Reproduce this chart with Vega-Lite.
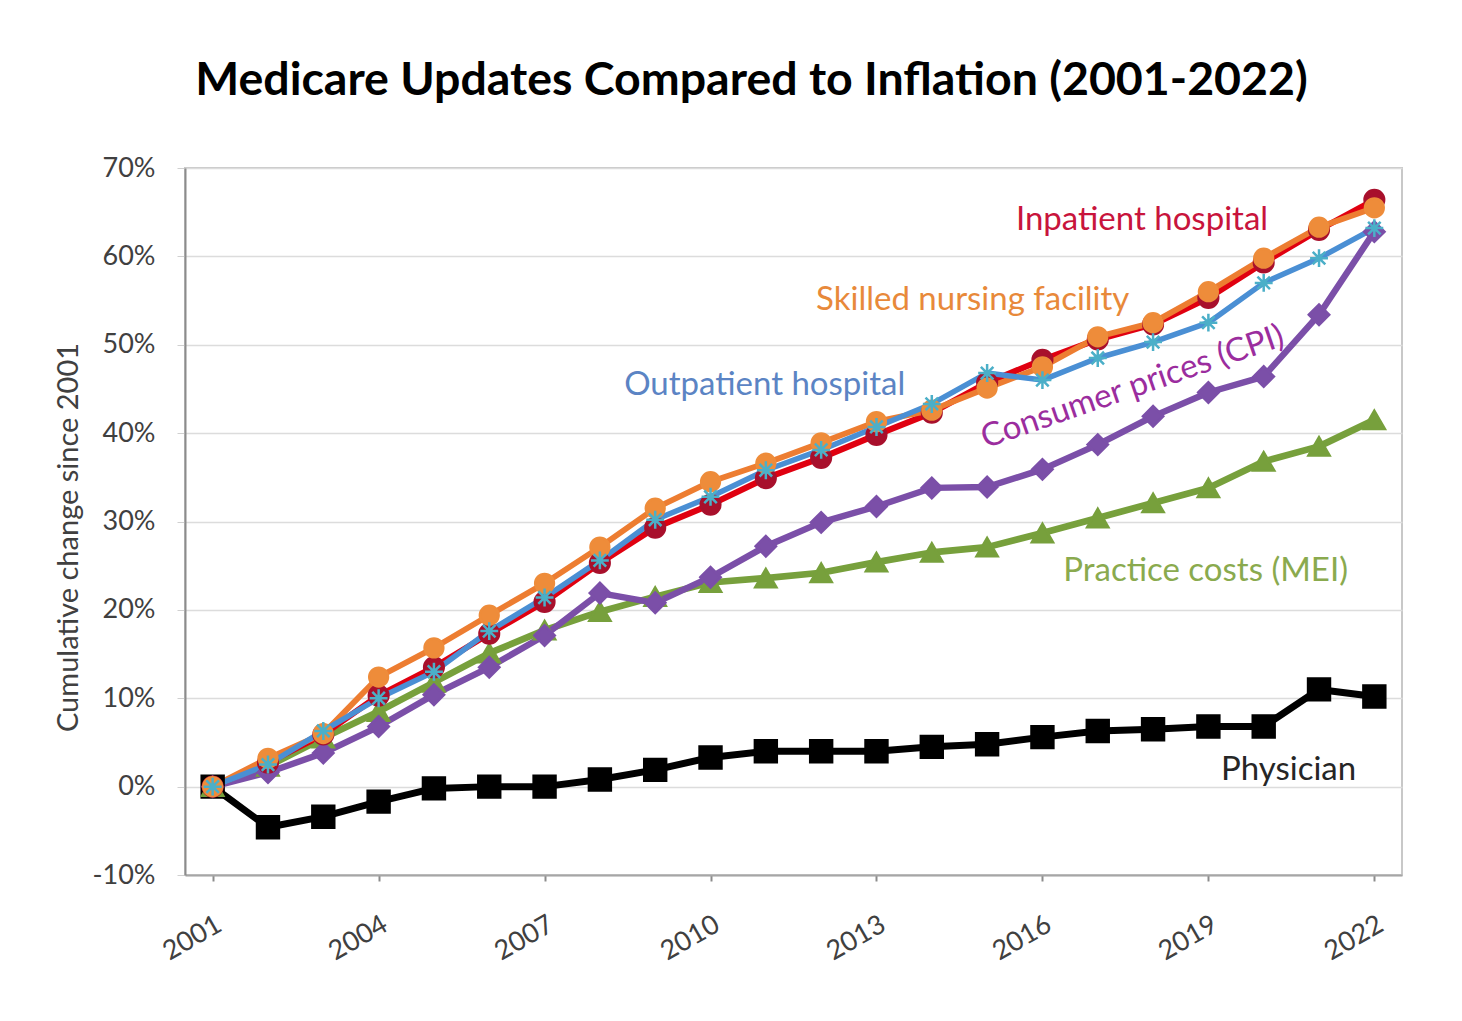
{
  "$schema": "https://vega.github.io/schema/vega-lite/v6.json",
  "width": 1217,
  "height": 707,
  "autosize": {"type": "none"},
  "padding": {"left": 185, "top": 168, "right": 60, "bottom": 146},
  "background": "white",
  "title": {
    "text": "Medicare Updates Compared to Inflation (2001-2022)",
    "font": "Lato",
    "fontSize": 46.5,
    "fontWeight": "bold",
    "color": "#000000",
    "anchor": "middle",
    "offset": 50,
    "dx": -42
  },
  "config": {
    "view": {"stroke": "#C8C8C8", "strokeWidth": 2},
    "font": "Lato"
  },
  "datasets": {
    "series": [
      {"series": "Physician", "year": 2001, "value": 0},
      {"series": "Physician", "year": 2002, "value": -4.6},
      {"series": "Physician", "year": 2003, "value": -3.4},
      {"series": "Physician", "year": 2004, "value": -1.7},
      {"series": "Physician", "year": 2005, "value": -0.2},
      {"series": "Physician", "year": 2006, "value": 0},
      {"series": "Physician", "year": 2007, "value": 0},
      {"series": "Physician", "year": 2008, "value": 0.8},
      {"series": "Physician", "year": 2009, "value": 1.9},
      {"series": "Physician", "year": 2010, "value": 3.3},
      {"series": "Physician", "year": 2011, "value": 4.0},
      {"series": "Physician", "year": 2012, "value": 4.0},
      {"series": "Physician", "year": 2013, "value": 4.0},
      {"series": "Physician", "year": 2014, "value": 4.5},
      {"series": "Physician", "year": 2015, "value": 4.8},
      {"series": "Physician", "year": 2016, "value": 5.6},
      {"series": "Physician", "year": 2017, "value": 6.3},
      {"series": "Physician", "year": 2018, "value": 6.5},
      {"series": "Physician", "year": 2019, "value": 6.8},
      {"series": "Physician", "year": 2020, "value": 6.8},
      {"series": "Physician", "year": 2021, "value": 11.0},
      {"series": "Physician", "year": 2022, "value": 10.2},
      {"series": "MEI", "year": 2001, "value": 0},
      {"series": "MEI", "year": 2002, "value": 2.3},
      {"series": "MEI", "year": 2003, "value": 5.5},
      {"series": "MEI", "year": 2004, "value": 8.5},
      {"series": "MEI", "year": 2005, "value": 11.8},
      {"series": "MEI", "year": 2006, "value": 15.1},
      {"series": "MEI", "year": 2007, "value": 17.7},
      {"series": "MEI", "year": 2008, "value": 19.8},
      {"series": "MEI", "year": 2009, "value": 21.5},
      {"series": "MEI", "year": 2010, "value": 23.1},
      {"series": "MEI", "year": 2011, "value": 23.6},
      {"series": "MEI", "year": 2012, "value": 24.2},
      {"series": "MEI", "year": 2013, "value": 25.4},
      {"series": "MEI", "year": 2014, "value": 26.5},
      {"series": "MEI", "year": 2015, "value": 27.1},
      {"series": "MEI", "year": 2016, "value": 28.7},
      {"series": "MEI", "year": 2017, "value": 30.4},
      {"series": "MEI", "year": 2018, "value": 32.1},
      {"series": "MEI", "year": 2019, "value": 33.8},
      {"series": "MEI", "year": 2020, "value": 36.8},
      {"series": "MEI", "year": 2021, "value": 38.5},
      {"series": "MEI", "year": 2022, "value": 41.5},
      {"series": "CPI", "year": 2001, "value": 0},
      {"series": "CPI", "year": 2002, "value": 1.6},
      {"series": "CPI", "year": 2003, "value": 3.8},
      {"series": "CPI", "year": 2004, "value": 6.8},
      {"series": "CPI", "year": 2005, "value": 10.4},
      {"series": "CPI", "year": 2006, "value": 13.5},
      {"series": "CPI", "year": 2007, "value": 17.1},
      {"series": "CPI", "year": 2008, "value": 21.9},
      {"series": "CPI", "year": 2009, "value": 20.8},
      {"series": "CPI", "year": 2010, "value": 23.7},
      {"series": "CPI", "year": 2011, "value": 27.2},
      {"series": "CPI", "year": 2012, "value": 29.9},
      {"series": "CPI", "year": 2013, "value": 31.7},
      {"series": "CPI", "year": 2014, "value": 33.8},
      {"series": "CPI", "year": 2015, "value": 33.9},
      {"series": "CPI", "year": 2016, "value": 35.9},
      {"series": "CPI", "year": 2017, "value": 38.7},
      {"series": "CPI", "year": 2018, "value": 41.9},
      {"series": "CPI", "year": 2019, "value": 44.6},
      {"series": "CPI", "year": 2020, "value": 46.4},
      {"series": "CPI", "year": 2021, "value": 53.4},
      {"series": "CPI", "year": 2022, "value": 62.8},
      {"series": "Inpatient", "year": 2001, "value": 0},
      {"series": "Inpatient", "year": 2002, "value": 2.7},
      {"series": "Inpatient", "year": 2003, "value": 5.9},
      {"series": "Inpatient", "year": 2004, "value": 10.3},
      {"series": "Inpatient", "year": 2005, "value": 13.5},
      {"series": "Inpatient", "year": 2006, "value": 17.3},
      {"series": "Inpatient", "year": 2007, "value": 20.9},
      {"series": "Inpatient", "year": 2008, "value": 25.3},
      {"series": "Inpatient", "year": 2009, "value": 29.3},
      {"series": "Inpatient", "year": 2010, "value": 31.9},
      {"series": "Inpatient", "year": 2011, "value": 34.9},
      {"series": "Inpatient", "year": 2012, "value": 37.2},
      {"series": "Inpatient", "year": 2013, "value": 39.8},
      {"series": "Inpatient", "year": 2014, "value": 42.3},
      {"series": "Inpatient", "year": 2015, "value": 45.7},
      {"series": "Inpatient", "year": 2016, "value": 48.3},
      {"series": "Inpatient", "year": 2017, "value": 50.6},
      {"series": "Inpatient", "year": 2018, "value": 52.3},
      {"series": "Inpatient", "year": 2019, "value": 55.3},
      {"series": "Inpatient", "year": 2020, "value": 59.3},
      {"series": "Inpatient", "year": 2021, "value": 63.0},
      {"series": "Inpatient", "year": 2022, "value": 66.4},
      {"series": "SNF", "year": 2001, "value": 0},
      {"series": "SNF", "year": 2002, "value": 3.2},
      {"series": "SNF", "year": 2003, "value": 6.0},
      {"series": "SNF", "year": 2004, "value": 12.4},
      {"series": "SNF", "year": 2005, "value": 15.7},
      {"series": "SNF", "year": 2006, "value": 19.4},
      {"series": "SNF", "year": 2007, "value": 23.0},
      {"series": "SNF", "year": 2008, "value": 27.1},
      {"series": "SNF", "year": 2009, "value": 31.5},
      {"series": "SNF", "year": 2010, "value": 34.5},
      {"series": "SNF", "year": 2011, "value": 36.6},
      {"series": "SNF", "year": 2012, "value": 38.9},
      {"series": "SNF", "year": 2013, "value": 41.3},
      {"series": "SNF", "year": 2014, "value": 42.6},
      {"series": "SNF", "year": 2015, "value": 45.1},
      {"series": "SNF", "year": 2016, "value": 47.5},
      {"series": "SNF", "year": 2017, "value": 50.9},
      {"series": "SNF", "year": 2018, "value": 52.5},
      {"series": "SNF", "year": 2019, "value": 56.0},
      {"series": "SNF", "year": 2020, "value": 59.8},
      {"series": "SNF", "year": 2021, "value": 63.3},
      {"series": "SNF", "year": 2022, "value": 65.5},
      {"series": "Outpatient", "year": 2001, "value": 0},
      {"series": "Outpatient", "year": 2002, "value": 2.5},
      {"series": "Outpatient", "year": 2003, "value": 6.3},
      {"series": "Outpatient", "year": 2004, "value": 10.0},
      {"series": "Outpatient", "year": 2005, "value": 13.0},
      {"series": "Outpatient", "year": 2006, "value": 17.6},
      {"series": "Outpatient", "year": 2007, "value": 21.4},
      {"series": "Outpatient", "year": 2008, "value": 25.6},
      {"series": "Outpatient", "year": 2009, "value": 30.2},
      {"series": "Outpatient", "year": 2010, "value": 32.8},
      {"series": "Outpatient", "year": 2011, "value": 35.8},
      {"series": "Outpatient", "year": 2012, "value": 38.1},
      {"series": "Outpatient", "year": 2013, "value": 40.7},
      {"series": "Outpatient", "year": 2014, "value": 43.3},
      {"series": "Outpatient", "year": 2015, "value": 46.8},
      {"series": "Outpatient", "year": 2016, "value": 46.0},
      {"series": "Outpatient", "year": 2017, "value": 48.5},
      {"series": "Outpatient", "year": 2018, "value": 50.3},
      {"series": "Outpatient", "year": 2019, "value": 52.5},
      {"series": "Outpatient", "year": 2020, "value": 57.0},
      {"series": "Outpatient", "year": 2021, "value": 59.8},
      {"series": "Outpatient", "year": 2022, "value": 63.2}
    ],
    "labels": [
      {"label": "Inpatient hospital", "year": 2017.8, "value": 64.1},
      {"label": "Skilled nursing facility", "year": 2014.74, "value": 55.1},
      {"label": "Outpatient hospital", "year": 2010.98, "value": 45.5},
      {"label": "Consumer prices (CPI)", "year": 2017.63, "value": 45.2},
      {"label": "Practice costs (MEI)", "year": 2018.95, "value": 24.4},
      {"label": "Physician", "year": 2020.45, "value": 1.9}
    ]
  },
  "resolve": {"scale": {"color": "independent"}},
  "layer": [
    {
      "data": {"name": "series"},
      "mark": {"type": "line", "strokeJoin": "round"},
      "encoding": {
        "x": {
          "field": "year",
          "type": "quantitative",
          "scale": {"domain": [2000.5, 2022.5], "nice": false, "zero": false},
          "axis": {
            "values": [2001, 2004, 2007, 2010, 2013, 2016, 2019, 2022],
            "format": "d",
            "labelAngle": -30,
            "labelAlign": "right",
            "labelBaseline": "top",
            "labelFontSize": 27,
            "labelColor": "#404040",
            "labelPadding": 30,
            "tickSize": 6,
            "tickColor": "#8C8C8C",
            "tickWidth": 2,
            "domainColor": "#A6A6A6",
            "domainWidth": 2,
            "grid": false,
            "title": null
          }
        },
        "y": {
          "field": "value",
          "type": "quantitative",
          "scale": {"domain": [-10, 70], "nice": false},
          "axis": {
            "values": [-10, 0, 10, 20, 30, 40, 50, 60, 70],
            "labelExpr": "datum.value + '%'",
            "labelFontSize": 27,
            "labelColor": "#404040",
            "tickSize": 8,
            "tickColor": "#D0D0D0",
            "labelPadding": 22,
            "domainColor": "#8C8C8C",
            "domainWidth": 2,
            "gridColor": "#DCDCDC",
            "gridWidth": 1.5,
            "title": "Cumulative change since 2001",
            "titleFontSize": 29,
            "titleFontWeight": "normal",
            "titleColor": "#404040",
            "titlePadding": 9,
            "titleY": 369
          }
        },
        "color": {
          "field": "series",
          "type": "nominal",
          "scale": {
            "domain": ["Physician", "MEI", "CPI", "Inpatient", "SNF", "Outpatient"],
            "range": ["#000000", "#77A03C", "#7B4FA8", "#E00010", "#ED7D31", "#4A8FD4"]
          },
          "legend": null
        },
        "strokeWidth": {
          "field": "series",
          "type": "nominal",
          "scale": {
            "domain": ["Physician", "MEI", "CPI", "Inpatient", "SNF", "Outpatient"],
            "range": [7, 5.5, 5.5, 5.5, 5, 4.5]
          },
          "legend": null
        }
      }
    },
    {
      "data": {"name": "series"},
      "mark": {"type": "point", "filled": true, "opacity": 1, "strokeWidth": 2.5},
      "encoding": {
        "x": {"field": "year", "type": "quantitative"},
        "y": {"field": "value", "type": "quantitative"},
        "shape": {
          "field": "series",
          "type": "nominal",
          "scale": {
            "domain": ["Physician", "MEI", "CPI", "Inpatient", "SNF", "Outpatient"],
            "range": ["square", "triangle-up", "diamond", "circle", "circle", "M-1,0L1,0M0,-1L0,1M-0.7,-0.7L0.7,0.7M-0.7,0.7L0.7,-0.7"]
          },
          "legend": null
        },
        "fill": {
          "field": "series",
          "type": "nominal",
          "scale": {
            "domain": ["Physician", "MEI", "CPI", "Inpatient", "SNF", "Outpatient"],
            "range": ["#000000", "#77A03C", "#7B4FA8", "#A8102C", "#EE8C3A", "#4BAFC8"]
          },
          "legend": null
        },
        "stroke": {
          "field": "series",
          "type": "nominal",
          "scale": {
            "domain": ["Physician", "MEI", "CPI", "Inpatient", "SNF", "Outpatient"],
            "range": ["#000000", "#77A03C", "#7B4FA8", "#A8102C", "#EE8C3A", "#4BAFC8"]
          },
          "legend": null
        },
        "size": {
          "field": "series",
          "type": "nominal",
          "scale": {
            "domain": ["Physician", "MEI", "CPI", "Inpatient", "SNF", "Outpatient"],
            "range": [480, 320, 380, 300, 420, 320]
          },
          "legend": null
        }
      }
    },
    {
      "data": {"name": "labels"},
      "transform": [{"filter": "datum.label !== 'Consumer prices (CPI)'"}],
      "mark": {"type": "text", "font": "Lato", "fontSize": 33, "align": "center", "baseline": "middle"},
      "encoding": {
        "x": {"field": "year", "type": "quantitative"},
        "y": {"field": "value", "type": "quantitative"},
        "text": {"field": "label"},
        "color": {
          "field": "label",
          "type": "nominal",
          "scale": {
            "domain": ["Inpatient hospital", "Skilled nursing facility", "Outpatient hospital", "Practice costs (MEI)", "Physician"],
            "range": ["#C8143C", "#E8893A", "#5B84C4", "#8AAA4E", "#262626"]
          },
          "legend": null
        }
      }
    },
    {
      "data": {"name": "labels"},
      "transform": [{"filter": "datum.label === 'Consumer prices (CPI)'"}],
      "mark": {"type": "text", "font": "Lato", "fontSize": 33, "align": "center", "baseline": "middle", "angle": -19, "color": "#9B2D9E"},
      "encoding": {
        "x": {"field": "year", "type": "quantitative"},
        "y": {"field": "value", "type": "quantitative"},
        "text": {"field": "label"}
      }
    }
  ]
}
